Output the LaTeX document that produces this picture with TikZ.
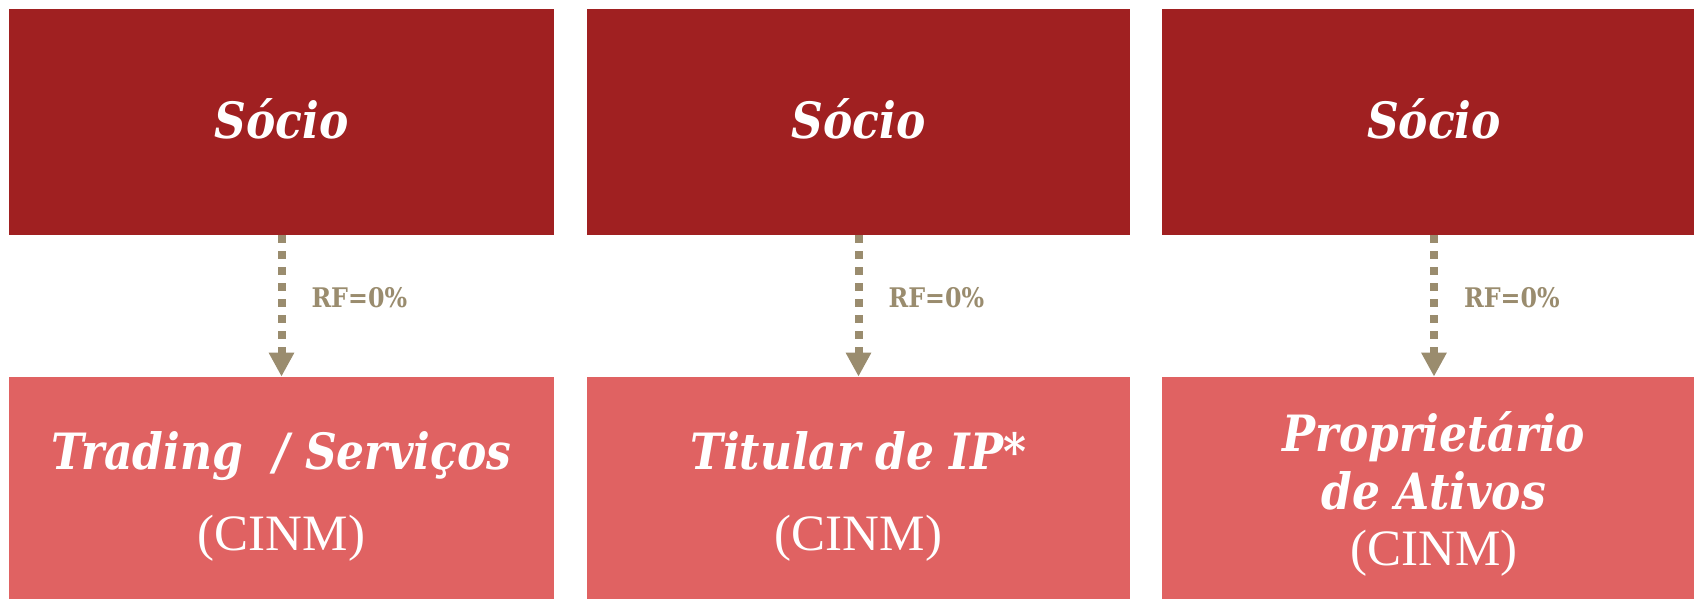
\documentclass[tikz,border=0pt]{standalone}
\usepackage{fontspec}
\usetikzlibrary{arrows.meta}
\newfontfamily\gfont[FakeStretch=0.88]{DejaVu Serif}
\newfontfamily\tfont{Liberation Serif}
\definecolor{darkred}{RGB}{160,32,33}
\definecolor{lightred}{RGB}{224,98,98}
\definecolor{olive}{RGB}{154,140,110}
\tikzset{
  topbox/.style={fill=darkred, draw=none, inner sep=0pt, minimum height=113pt},
  botbox/.style={fill=lightred, draw=none, inner sep=0pt, minimum height=116.5pt},
  headtxt/.style={text=white, inner sep=0pt, anchor=base, font=\gfont\bfseries\itshape\fontsize{25}{30}\selectfont},
  subtxt/.style={text=white, inner sep=0pt, anchor=base, font=\tfont\fontsize{25.5}{30}\selectfont},
  flow/.style={draw=olive, line width=4pt, dash pattern=on 4pt off 4pt,
    -{Triangle[width=12pt,length=12pt]}},
  rflbl/.style={text=olive, inner sep=0pt, anchor=west, font=\gfont\bfseries\fontsize{13.5}{16}\selectfont}
}
\begin{document}
\begin{tikzpicture}[x=0.5pt,y=-0.5pt]
\clip (0,0) rectangle (1694,599);
\useasboundingbox (0,0) rectangle (1694,599);
% top boxes
\node[topbox, minimum width=272.5pt] (top1) at (281.5,122) {};
\node[topbox, minimum width=271.5pt] (top2) at (858.5,122) {};
\node[topbox, minimum width=272pt] (top3) at (1434,122) {};
% bottom boxes
\node[botbox, minimum width=272.5pt] (bot1) at (281.5,493.5) {};
\node[botbox, minimum width=271.5pt] (bot2) at (858.5,493.5) {};
\node[botbox, minimum width=272pt] (bot3) at (1434,493.5) {};
% top texts
\node[headtxt] (s1) at (281.5,139) {Sócio};
\node[headtxt] (s2) at (858.5,139) {Sócio};
\node[headtxt] (s3) at (1434,139) {Sócio};
% bottom texts
\node[headtxt] (b1a) at (281.5,469) {Trading\ \ / Serviços};
\node[subtxt] (b1b) at (281.5,550) {(CINM)};
\node[headtxt] (b2a) at (858.5,469) {Titular de IP*};
\node[subtxt] (b2b) at (858.5,550) {(CINM)};
\node[headtxt] (b3a) at (1434,451) {Proprietário};
\node[headtxt] (b3b) at (1434,509) {de Ativos};
\node[subtxt] (b3c) at (1434,565) {(CINM)};
% connectors
\draw[flow] (top1.south) -- node[rflbl, pos=0.5, xshift=13pt, yshift=4pt] (rf1) {RF=0\%} (bot1.north);
\draw[flow] (top2.south) -- node[rflbl, pos=0.5, xshift=13pt, yshift=4pt] (rf2) {RF=0\%} (bot2.north);
\draw[flow] (top3.south) -- node[rflbl, pos=0.5, xshift=13pt, yshift=4pt] (rf3) {RF=0\%} (bot3.north);
\end{tikzpicture}
\end{document}
